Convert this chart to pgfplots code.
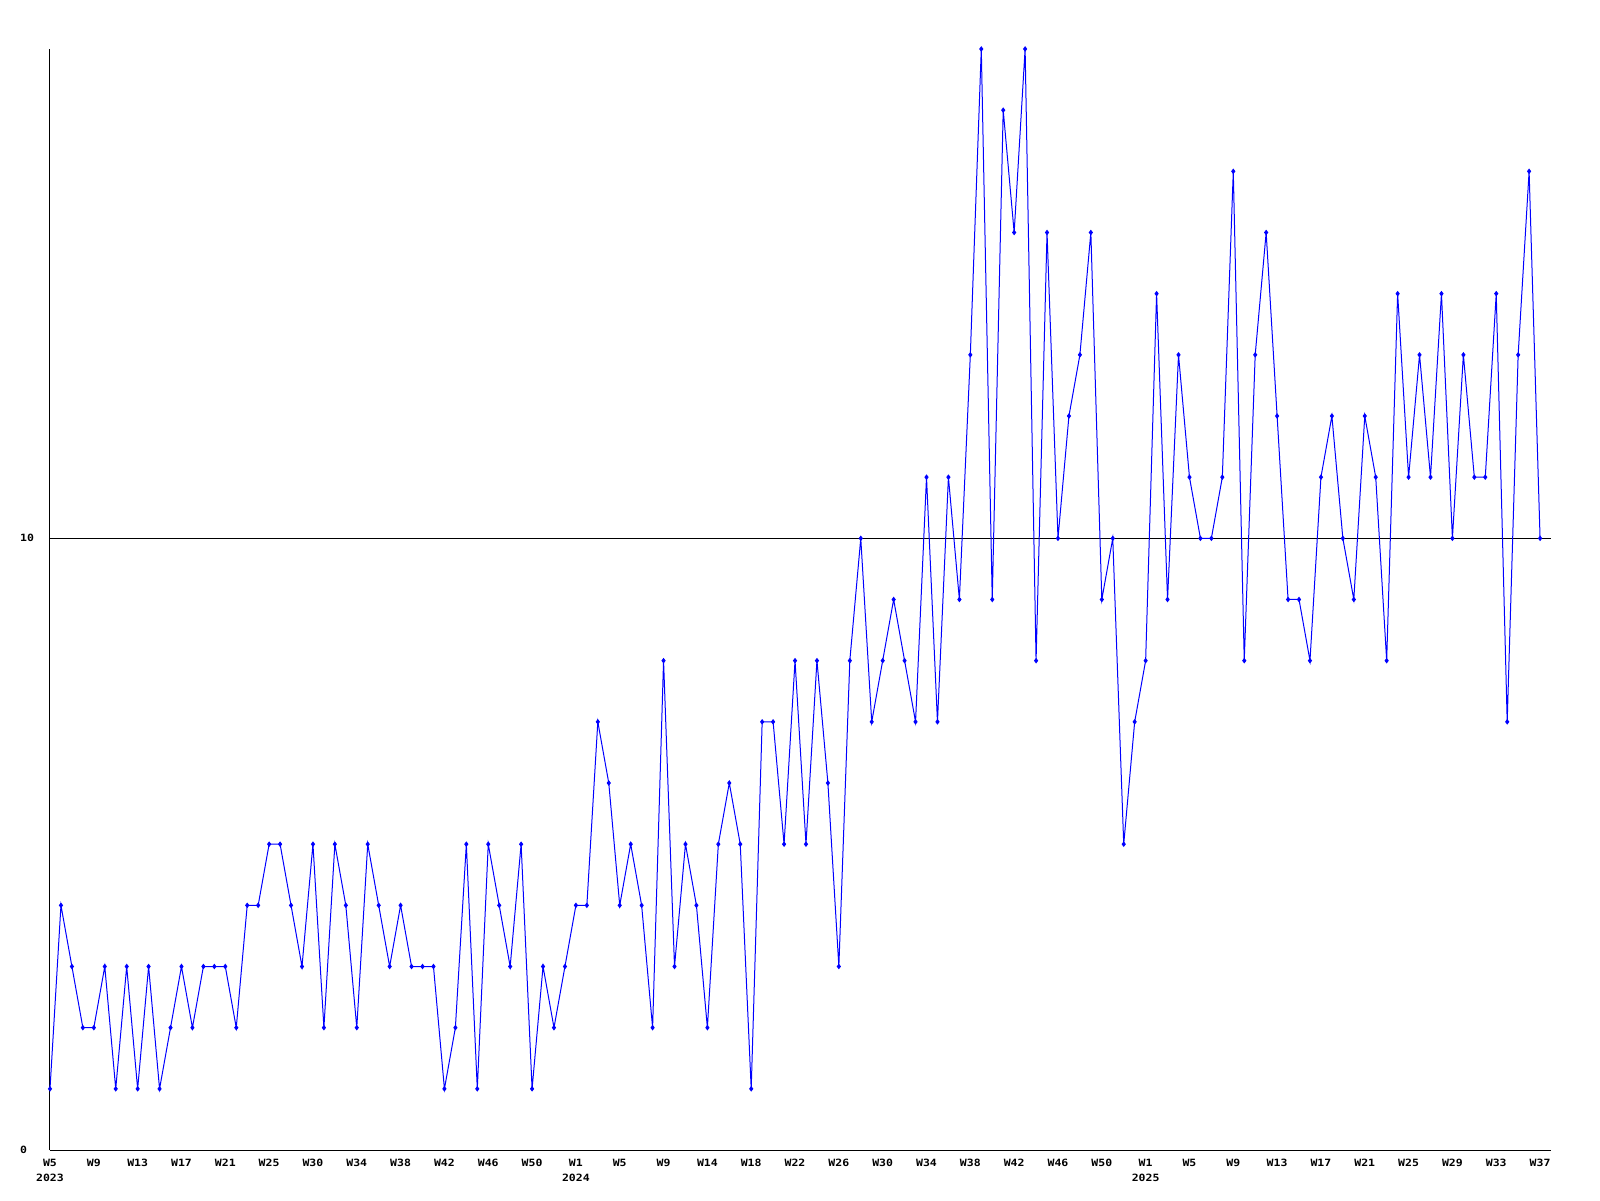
\documentclass[border=0pt]{standalone}
\usepackage{fontspec}
\newfontfamily\gdfont[FakeStretch=1.15]{DejaVu Sans Mono}
\usepackage{pgfplots}
\pgfplotsset{compat=1.18}
\definecolor{gdblue}{RGB}{0,0,255}

% weekly counts, 2023 W5 ... 2025 W37 (one point per week)
\pgfplotstableread{
i v
0 1
1 4
2 3
3 2
4 2
5 3
6 1
7 3
8 1
9 3
10 1
11 2
12 3
13 2
14 3
15 3
16 3
17 2
18 4
19 4
20 5
21 5
22 4
23 3
24 5
25 2
26 5
27 4
28 2
29 5
30 4
31 3
32 4
33 3
34 3
35 3
36 1
37 2
38 5
39 1
40 5
41 4
42 3
43 5
44 1
45 3
46 2
47 3
48 4
49 4
50 7
51 6
52 4
53 5
54 4
55 2
56 8
57 3
58 5
59 4
60 2
61 5
62 6
63 5
64 1
65 7
66 7
67 5
68 8
69 5
70 8
71 6
72 3
73 8
74 10
75 7
76 8
77 9
78 8
79 7
80 11
81 7
82 11
83 9
84 13
85 18
86 9
87 17
88 15
89 18
90 8
91 15
92 10
93 12
94 13
95 15
96 9
97 10
98 5
99 7
100 8
101 14
102 9
103 13
104 11
105 10
106 10
107 11
108 16
109 8
110 13
111 15
112 12
113 9
114 9
115 8
116 11
117 12
118 10
119 9
120 12
121 11
122 8
123 14
124 11
125 13
126 11
127 14
128 10
129 13
130 11
131 11
132 14
133 7
134 13
135 16
136 10
}\weekly

\begin{document}
\begin{tikzpicture}
\begin{axis}[
    scale only axis,
    width=1501pt, height=1101pt,
    xmin=0, xmax=137, ymin=0, ymax=18,
    axis x line=bottom, axis y line=left,
    axis line style={-, line width=1pt, black},
    xtick={0,4,...,136},
    xticklabels={{W5\\2023},W9,W13,W17,W21,W25,W30,W34,W38,W42,W46,W50,
      {W1\\2024},W5,W9,W14,W18,W22,W26,W30,W34,W38,W42,W46,W50,
      {W1\\2025},W5,W9,W13,W17,W21,W25,W29,W33,W37},
    ytick={0,10},
    major tick length=0pt,
    ymajorgrids,
    grid style={black, line width=1pt},
    /pgf/number format/assume math mode=true,
    tick label style={font=\gdfont\bfseries\fontsize{10}{15}\selectfont, inner sep=0pt},
    xticklabel style={align=center, anchor=north, yshift=-9pt},
    yticklabel style={anchor=west, xshift=-30pt},
    clip=false,
]
\addplot[gdblue, line width=1pt, mark=diamond*, mark size=2pt,
  mark options={fill=gdblue, draw=gdblue}] table[x=i, y=v] {\weekly};
\end{axis}
\pgfresetboundingbox
\path[use as bounding box] (-50pt,-50pt) rectangle (1550pt,1150pt);
\end{tikzpicture}
\end{document}
